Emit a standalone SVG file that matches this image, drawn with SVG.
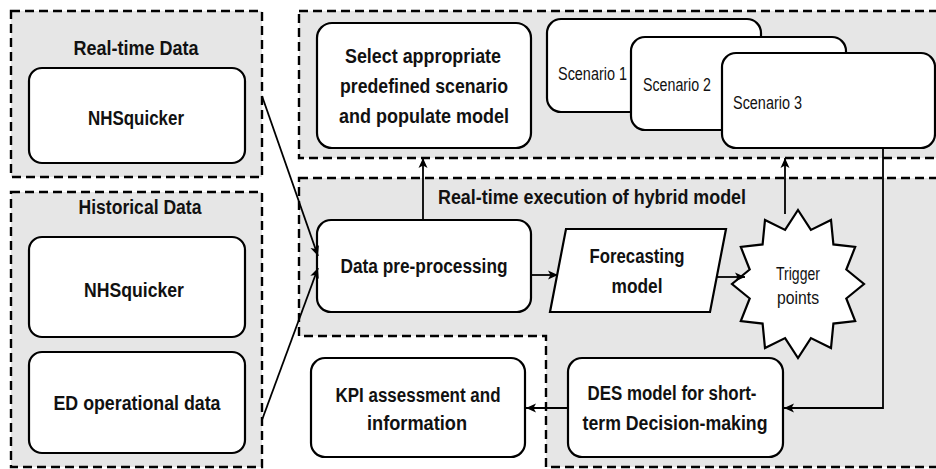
<svg xmlns="http://www.w3.org/2000/svg" width="936" height="469" viewBox="0 0 936 469">
  <style>
    .cont { fill: #e6e6e6; stroke: #000; stroke-width: 2.4; stroke-dasharray: 9 5; }
    .box { fill: #fff; stroke: #000; stroke-width: 2.2; }
    .b { font-family: "Liberation Sans", Arial, sans-serif; font-weight: bold; font-size: 19.5px; text-anchor: middle; fill: #111; }
    .r { font-family: "Liberation Sans", Arial, sans-serif; font-size: 17.5px; fill: #111; }
    .rm { text-anchor: middle; }
    .conn { stroke: #000; stroke-width: 1.8; fill: none; marker-end: url(#arr); }
  </style>
  <defs>
    <marker id="arr" markerUnits="userSpaceOnUse" markerWidth="12" markerHeight="10" refX="10" refY="5" orient="auto">
      <path d="M0,0.5 L10,5 L0,9.5 L2.5,5 z" fill="#000"/>
    </marker>
  </defs>
  <rect width="936" height="469" fill="#fff"/>

  <!-- dashed grouping areas -->
  <g id="groups">
    <rect id="realtime-data" class="cont" x="11" y="11" width="251" height="166"/>
    <rect id="historical-data" class="cont" x="11" y="192" width="251" height="275"/>
    <rect id="scenario-area" class="cont" x="299" y="11" width="650" height="147"/>
    <path id="execution-area" class="cont" d="M299,178 L950,178 L950,467 L546,467 L546,336 L299,336 Z"/>
    <text class="b" x="136" y="55" textLength="125" lengthAdjust="spacingAndGlyphs">Real-time Data</text>
    <text class="b" x="140" y="214" textLength="123" lengthAdjust="spacingAndGlyphs">Historical Data</text>
    <text class="b" x="592" y="204" textLength="308" lengthAdjust="spacingAndGlyphs">Real-time execution of hybrid model</text>
  </g>

  <g id="nhs-realtime">
    <rect class="box" x="29" y="68" width="216" height="95" rx="13"/>
    <text class="b" x="136" y="125" textLength="96" lengthAdjust="spacingAndGlyphs">NHSquicker</text>
  </g>
  <g id="nhs-historical">
    <rect class="box" x="29" y="237" width="216" height="100" rx="13"/>
    <text class="b" x="134" y="297" textLength="100" lengthAdjust="spacingAndGlyphs">NHSquicker</text>
  </g>
  <g id="ed-data">
    <rect class="box" x="29" y="352" width="216" height="101" rx="13"/>
    <text class="b" x="137" y="410" textLength="167" lengthAdjust="spacingAndGlyphs">ED operational data</text>
  </g>

  <g id="select-scenario">
    <rect class="box" x="317" y="23" width="214" height="125" rx="15"/>
    <text class="b" x="423" y="63" textLength="156" lengthAdjust="spacingAndGlyphs">Select appropriate</text>
    <text class="b" x="424" y="93" textLength="168" lengthAdjust="spacingAndGlyphs">predefined scenario</text>
    <text class="b" x="424" y="123" textLength="170" lengthAdjust="spacingAndGlyphs">and populate model</text>
  </g>

  <g id="scenario-1">
    <rect class="box" x="547" y="19" width="214" height="93" rx="14"/>
    <text class="r" x="558" y="80" textLength="69" lengthAdjust="spacingAndGlyphs">Scenario 1</text>
  </g>
  <g id="scenario-2">
    <rect class="box" x="631" y="37" width="215" height="93" rx="14"/>
    <text class="r" x="643" y="91" textLength="68" lengthAdjust="spacingAndGlyphs">Scenario 2</text>
  </g>
  <g id="scenario-3">
    <rect class="box" x="722" y="53" width="213" height="95" rx="14"/>
    <text class="r" x="733" y="109" textLength="69" lengthAdjust="spacingAndGlyphs">Scenario 3</text>
  </g>

  <g id="pre-processing">
    <rect class="box" x="317" y="220" width="214" height="92" rx="14"/>
    <text class="b" x="424" y="273" textLength="167" lengthAdjust="spacingAndGlyphs">Data pre-processing</text>
  </g>

  <g id="forecasting">
    <polygon class="box" points="566,229 726,229 710,312 550,312"/>
    <text class="b" x="637" y="263" textLength="95" lengthAdjust="spacingAndGlyphs">Forecasting</text>
    <text class="b" x="637" y="293" textLength="51" lengthAdjust="spacingAndGlyphs">model</text>
  </g>

  <g id="trigger-points">
    <polygon class="box" points="798,210 810.9,229.9 831,219.9 833.4,244.4 855.2,247 846.3,269.5 864,284 846.3,298.5 855.2,321 833.4,323.6 831,348.1 810.9,338.1 798,358 785.1,338.1 765,348.1 762.6,323.6 740.8,321 749.7,298.5 732,284 749.7,269.5 740.8,247 762.6,244.4 765,219.9 785.1,229.9"/>
    <text class="r rm" x="798" y="280" textLength="44" lengthAdjust="spacingAndGlyphs">Trigger</text>
    <text class="r rm" x="798" y="304" textLength="42" lengthAdjust="spacingAndGlyphs">points</text>
  </g>

  <g id="des-model">
    <rect class="box" x="568" y="358" width="215" height="99" rx="14"/>
    <text class="b" x="672" y="400" textLength="169" lengthAdjust="spacingAndGlyphs">DES model for short-</text>
    <text class="b" x="675" y="430" textLength="185" lengthAdjust="spacingAndGlyphs">term Decision-making</text>
  </g>

  <g id="kpi">
    <rect class="box" x="311" y="358" width="214" height="99" rx="14"/>
    <text class="b" x="418" y="402" textLength="165" lengthAdjust="spacingAndGlyphs">KPI assessment and</text>
    <text class="b" x="417" y="430" textLength="100" lengthAdjust="spacingAndGlyphs">information</text>
  </g>

  <!-- connectors -->
  <g id="connectors">
    <line class="conn" x1="262" y1="96" x2="318" y2="256"/>
    <line class="conn" x1="262" y1="420" x2="318" y2="268"/>
    <line class="conn" x1="423" y1="220" x2="423" y2="158"/>
    <line class="conn" x1="531" y1="275" x2="558" y2="275"/>
    <line class="conn" x1="716" y1="277" x2="745" y2="277"/>
    <line class="conn" x1="785" y1="214" x2="785" y2="158"/>
    <polyline class="conn" points="883,148 883,408 784,408"/>
    <line class="conn" x1="568" y1="408" x2="526" y2="408"/>
  </g>
</svg>
